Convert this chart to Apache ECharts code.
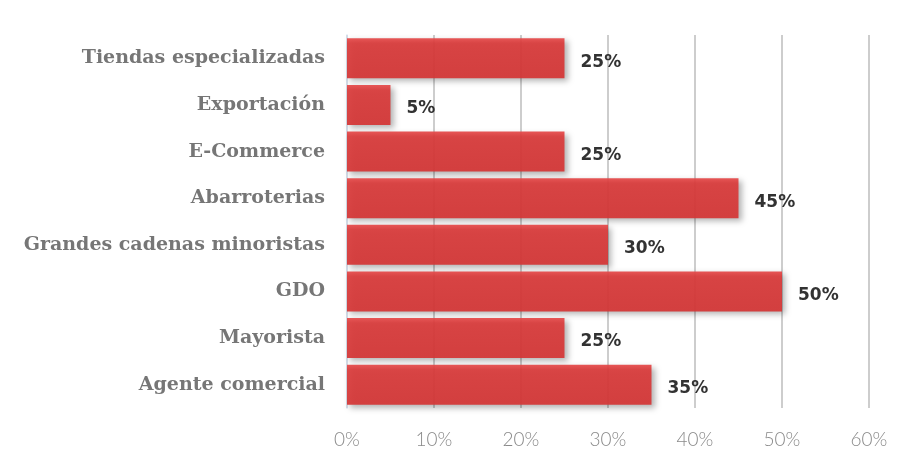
<!DOCTYPE html>
<html>
<head>
<meta charset="utf-8">
<script src="https://cdn.jsdelivr.net/npm/echarts@6/dist/echarts.min.js"></script>
<style>
  html, body { margin: 0; padding: 0; background: #ffffff; }
  #chart { width: 911px; height: 469px; }
</style>
</head>
<body>
<div id="chart"></div>
<script>
// Sales channels, listed top to bottom
const categories = [
  'Tiendas especializadas',
  'Exportación',
  'E-Commerce',
  'Abarroterias',
  'Grandes cadenas minoristas',
  'GDO',
  'Mayorista',
  'Agente comercial'
];
// Share per channel, in percent
const shares = [25, 5, 25, 45, 30, 50, 25, 35];
const xTicks = [0, 10, 20, 30, 40, 50, 60];

const chart = echarts.init(document.getElementById('chart'));

chart.setOption({
  animation: false,
  backgroundColor: '#ffffff',
  grid: { left: 347, right: 42, top: 35, bottom: 61 },
  xAxis: {
    type: 'value',
    min: xTicks[0],
    max: xTicks[xTicks.length - 1],
    interval: 10,
    axisLine: { show: false },
    axisTick: { show: false },
    splitLine: { show: true, lineStyle: { color: '#bdbdbd', width: 1.5 } },
    axisLabel: {
      formatter: '{value}%',
      color: '#8a8a8a',
      fontFamily: 'Lato',
      fontWeight: 300,
      fontSize: 19,
      margin: 22
    }
  },
  yAxis: {
    type: 'category',
    inverse: true,
    data: categories,
    axisLine: { show: true, lineStyle: { color: '#d6e2f0', width: 1.5 } },
    axisTick: { show: false },
    splitLine: { show: false },
    axisLabel: {
      color: '#767676',
      fontFamily: 'DejaVu Serif',
      fontWeight: 'bold',
      fontSize: 19,
      margin: 22
    }
  },
  series: [{
    type: 'bar',
    data: shares,
    barWidth: 40,
    z: 1,
    itemStyle: {
      opacity: 0.93,
      color: new echarts.graphic.LinearGradient(0, 0, 0, 1, [
        { offset: 0, color: '#e64a4a' },
        { offset: 0.12, color: '#da3b3b' },
        { offset: 1, color: '#d53636' }
      ]),
      shadowColor: 'rgba(0,0,0,0.32)',
      shadowBlur: 6,
      shadowOffsetX: 3,
      shadowOffsetY: 3
    },
    label: {
      show: true,
      position: 'right',
      distance: 16,
      offset: [0, 4],
      formatter: '{c}%',
      color: '#222222',
      fontFamily: 'DejaVu Sans',
      fontWeight: 'bold',
      fontSize: 17
    }
  }]
});
</script>
</body>
</html>
